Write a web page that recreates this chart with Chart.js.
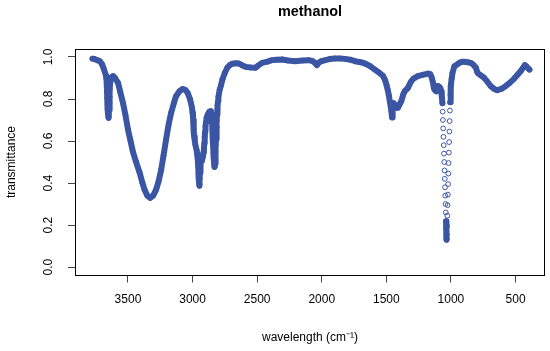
<!DOCTYPE html>
<html>
<head>
<meta charset="utf-8">
<script src="https://cdn.jsdelivr.net/npm/chart.js@4/dist/chart.umd.min.js"></script>
<style>
html,body{margin:0;padding:0;background:#fff;}
canvas{display:block;}
</style>
</head>
<body>
<canvas id="c" width="550" height="351"></canvas>
<script>
// ---- data ----
const chartTitle = 'methanol';
const xAxisTitle = 'wavelength (cm\u207B\u00B9)';
const yAxisTitle = 'transmittance';

const waves = [
 3775,3760,3740,3718,3700,3685,3672,3666,3664,3662,3660,3658,3656,3654,3652,3650,3648,3646,3644,3642,3640,3637,3630,3615,3600,3577,3560,3538,3520,3500,
 3480,3462,3440,3410,3390,3372,3350,3328,3305,3282,3262,3243,3225,3205,3185,3166,3145,3128,3100,3077,3055,3038,3020,3005,3000,2997,2995,2993,2991,2989,
 2987,2983,2978,2968,
 2963,2959,2956,2954,2952,2950,2948,2946,2944,2942,2940,2937,2928,2920,2916,2912,2909,2906,2903,2900,2896,2892,2883,2870,2858,2852,2850,2848,2846,2844,
 2842,2840,2838,2836,2834,2832,2830,2828,2826,2824,2822,2820,2818,2816,2814,2812,2810,2808,2806,2803,2800,2790,2780,2769,2750,2731,2710,2692,2665,2641,
 2615,2589,2550,2512,2490,2462,2420,2385,2350,2306,2260,2205,2150,2102,2070,2050,2038,2025,2005,1987,1940,1897,1860,1820,1780,1743,1700,1666,1630,1589,
 1555,1525,1510,1499,1490,1481,1474,1466,1461,1458,1456,1453,1450,1443,1436,1430,1420,1410,1397,1384,1370,1358,1345,1333,1320,1307,1290,1256,1220,1179,
 1160,1150,1140,1132,1127,1120,1114,1102,1090,1081,1076,1071,1066,1064,1062,1060,1058,1056,1054,1052,1050,1048,1046,1044,1042,1040,1038,1037,1036,1035,
 1034,1033,1032,1030,1028,1026,1024,1022,1020,1018,1016,1014,1012,1010,1008,1006,1004,1002,1000,995,988,973,950,935,915,897,870,846,825,807,
 795,770,743,715,692,665,641,610,577,545,512,485,461,440,428,415,400,392
];
const trans = [
 0.992,0.991,0.985,0.980,0.965,0.940,0.915,0.893,0.865,0.835,0.805,0.775,0.750,0.728,0.714,0.710,0.720,0.748,0.778,0.810,0.845,0.880,0.903,0.909,0.900,0.877,0.835,0.780,0.725,0.655,
 0.600,0.550,0.505,0.450,0.405,0.369,0.340,0.329,0.340,0.369,0.410,0.464,0.530,0.607,0.680,0.734,0.780,0.813,0.838,0.848,0.843,0.829,0.800,0.760,0.735,0.718,0.700,0.680,0.660,0.640,
 0.620,0.600,0.582,0.555,
 0.530,0.505,0.478,0.450,0.425,0.402,0.387,0.395,0.420,0.450,0.478,0.500,0.505,0.525,0.545,0.565,0.590,0.620,0.645,0.670,0.690,0.710,0.725,0.740,0.742,0.730,0.710,0.685,0.658,0.630,
 0.602,0.572,0.545,0.520,0.500,0.485,0.477,0.477,0.493,0.518,0.548,0.578,0.608,0.638,0.668,0.698,0.728,0.750,0.770,0.790,0.810,0.845,0.865,0.893,0.925,0.949,0.962,0.968,0.970,0.969,
 0.960,0.953,0.950,0.949,0.960,0.972,0.978,0.985,0.987,0.988,0.983,0.980,0.983,0.985,0.980,0.970,0.961,0.972,0.980,0.983,0.990,0.993,0.993,0.991,0.987,0.980,0.975,0.969,0.958,0.940,
 0.925,0.909,0.890,0.868,0.845,0.818,0.792,0.765,0.742,0.724,0.712,0.728,0.755,0.780,0.770,0.766,0.758,0.758,0.775,0.790,0.820,0.837,0.845,0.853,0.870,0.885,0.897,0.909,0.915,0.921,
 0.918,0.905,0.880,0.853,0.845,0.840,0.837,0.862,0.858,0.850,0.835,0.813,0.780,0.740,0.700,0.660,0.620,0.580,0.540,0.500,0.460,0.420,0.380,0.340,0.300,0.260,0.218,0.185,0.155,0.138,
 0.130,0.135,0.155,0.195,0.245,0.295,0.345,0.395,0.445,0.495,0.545,0.595,0.645,0.695,0.745,0.785,0.820,0.842,0.860,0.895,0.925,0.956,0.965,0.972,0.977,0.977,0.975,0.972,0.962,0.949,
 0.925,0.913,0.901,0.880,0.861,0.848,0.842,0.848,0.861,0.877,0.896,0.915,0.932,0.950,0.961,0.955,0.945,0.940
];

const xTicks = [3500, 3000, 2500, 2000, 1500, 1000, 500];
const xTickLabels = ['3500', '3000', '2500', '2000', '1500', '1000', '500'];
const yTicks = [0, 0.2, 0.4, 0.6, 0.8, 1.0];
const yTickLabels = ['0.0', '0.2', '0.4', '0.6', '0.8', '1.0'];

// ---- styling ----
const BLUE = '#3b55a5';
const FONT = "'Liberation Sans', Arial, Helvetica, sans-serif";

const boxPlugin = {
  id: 'boxPlugin',
  afterDraw(chart) {
    const {ctx, chartArea: a} = chart;
    ctx.save();
    ctx.strokeStyle = '#000';
    ctx.lineWidth = 1;
    const l = Math.round(a.left) + 0.5, t = Math.round(a.top) + 0.5;
    const r = Math.round(a.right) - 0.5, b = Math.round(a.bottom) - 0.5;
    ctx.strokeRect(l, t, r - l, b - t);
    // rotated y tick labels (as in the reference)
    const ys = chart.scales.y;
    ctx.fillStyle = '#000';
    ctx.font = '12px ' + FONT;
    ctx.textAlign = 'center';
    ctx.textBaseline = 'alphabetic';
    yTicks.forEach((v, i) => {
      const py = ys.getPixelForValue(v);
      ctx.save();
      ctx.translate(52, py);
      ctx.rotate(-Math.PI / 2);
      ctx.fillText(yTickLabels[i], 0, 0);
      ctx.restore();
    });
    ctx.restore();
  }
};

// only the very steep, sparsely sampled parts show individual circles
const steep = (c) => Math.abs(c.p1.x - c.p0.x) < 1.5 && Math.abs(c.p1.y - c.p0.y) > 7.5;

new Chart(document.getElementById('c'), {
  type: 'line',
  data: {
    datasets: [{
      data: waves.map((w, i) => ({x: w, y: trans[i]})),
      borderColor: BLUE,
      borderWidth: 6,
      borderJoinStyle: 'round',
      borderCapStyle: 'round',
      tension: 0,
      pointStyle: 'circle',
      pointRadius: 2.4,
      pointBorderWidth: 1,
      pointBackgroundColor: 'rgba(0,0,0,0)',
      pointBorderColor: BLUE,
      segment: {
        borderColor: c => steep(c) ? 'rgba(0,0,0,0)' : BLUE
      }
    }]
  },
  options: {
    responsive: false,
    animation: false,
    devicePixelRatio: 1,
    layout: {padding: {top: 0, left: 0, right: 2, bottom: 0}},
    plugins: {
      legend: {display: false},
      tooltip: {enabled: false},
      title: {
        display: true,
        text: chartTitle,
        fullSize: false,
        color: '#000',
        font: {family: FONT, size: 14.4, weight: 'bold', lineHeight: 1.2},
        padding: {top: 3.4, bottom: 27.9}
      }
    },
    scales: {
      x: {
        type: 'linear',
        reverse: true,
        min: 272,
        max: 3910,
        afterBuildTicks: s => { s.ticks = xTicks.map(v => ({value: v})); },
        afterFit: s => { s.height = 75.5; },
        border: {display: false},
        grid: {drawOnChartArea: false, drawTicks: true, tickLength: 7, color: '#444', lineWidth: 1},
        ticks: {
          color: '#000',
          font: {family: FONT, size: 12},
          padding: 10,
          maxRotation: 0,
          minRotation: 0,
          autoSkip: false,
          callback: (v) => xTickLabels[xTicks.indexOf(v)]
        },
        title: {
          display: true,
          text: xAxisTitle,
          color: '#000',
          font: {family: FONT, size: 12, lineHeight: 1.2},
          padding: {top: 0, bottom: 6}
        }
      },
      y: {
        type: 'linear',
        min: -0.04,
        max: 1.04,
        afterBuildTicks: s => { s.ticks = yTicks.map(v => ({value: v})); },
        afterFit: s => { s.width = 75; },
        border: {display: false},
        grid: {drawOnChartArea: false, drawTicks: true, tickLength: 7, color: '#444', lineWidth: 1},
        ticks: {display: false},
        title: {
          display: true,
          text: yAxisTitle,
          color: '#000',
          font: {family: FONT, size: 12, lineHeight: 1.2},
          padding: {top: 4.2, bottom: 0}
        }
      }
    }
  },
  plugins: [boxPlugin]
});
</script>
</body>
</html>
